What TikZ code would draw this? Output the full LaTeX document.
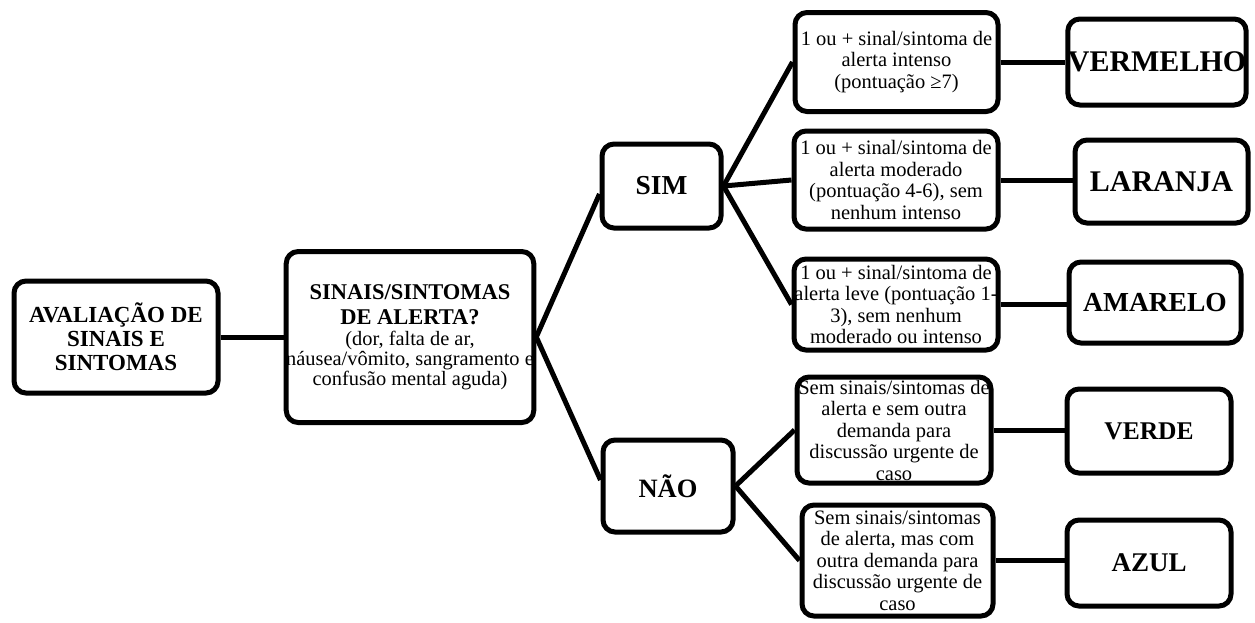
\documentclass[tikz,border=0pt]{standalone}
\usepackage{fontspec}
\setmainfont{Liberation Serif}
\usetikzlibrary{calc}
\newcommand{\bigb}{\fontsize{22.5}{25}\selectfont\bfseries}
\newcommand{\smb}{\fontsize{20.4}{20}\selectfont\mdseries}
\begin{document}
\begin{tikzpicture}[x=1pt,y=-1pt,
  box/.style={draw=black, line width=5pt, rounded corners=12pt, fill=white, align=center, inner sep=0pt,
    font=\fontsize{20.5}{21.5}\selectfont},
  bigbox/.style={box, font=\fontsize{30}{32}\selectfont\bfseries},
  conn/.style={line width=5pt, draw=black},
]
\useasboundingbox (0,0) rectangle (1255,622);

\node[box, minimum width=204, minimum height=112, font=\fontsize{23}{24}\selectfont\bfseries] (A) at (116,337)
  {AVALIAÇÃO DE\\SINAIS E\\SINTOMAS};
\node[box, minimum width=240, minimum height=171, font=\fontsize{20.4}{20}\selectfont] (B) at (410,337)
  {\bigb SINAIS/SINTOMAS\\[5pt]\bigb DE ALERTA?\\[1pt]\smb (dor, falta de ar,\\\smb náusea/vômito, sangramento e\\\smb confusão mental aguda)};

\node[box, minimum width=119, minimum height=84, font=\fontsize{27.4}{29}\selectfont\bfseries] (SIM) at (661.5,186) {SIM};
\node[box, minimum width=130, minimum height=92, font=\fontsize{26.5}{28}\selectfont\bfseries] (NAO) at (668,486) {NÃO};

\node[box, minimum width=203, minimum height=99] (C1) at (896.5,62) {1 ou + sinal/sintoma de\\alerta intenso\\(pontuação ≥7)};
\node[box, minimum width=204, minimum height=98] (C2) at (896,180) {1 ou + sinal/sintoma de\\alerta moderado\\(pontuação 4-6), sem\\nenhum intenso};
\node[box, minimum width=204, minimum height=91] (C3) at (896,304.5) {1 ou + sinal/sintoma de\\alerta leve (pontuação 1-\\3), sem nenhum\\moderado ou intenso};
\node[box, minimum width=194, minimum height=106] (C4) at (894,430) {Sem sinais/sintomas de\\alerta e sem outra\\demanda para\\discussão urgente de\\caso};
\node[box, minimum width=191, minimum height=111] (C5) at (897.5,560.5) {Sem sinais/sintomas\\de alerta, mas com\\outra demanda para\\discussão urgente de\\caso};

\node[bigbox, minimum width=176, minimum height=86] (VERM) at (1157,62) {VERMELHO};
\node[bigbox, minimum width=173, minimum height=83] (LAR) at (1161.5,181.5) {LARANJA};
\node[bigbox, minimum width=172, minimum height=81, font=\fontsize{27.5}{29}\selectfont\bfseries] (AMA) at (1155,302.5) {AMARELO};
\node[bigbox, minimum width=164, minimum height=84, font=\fontsize{25.5}{27}\selectfont\bfseries] (VER) at (1149,431) {VERDE};
\node[bigbox, minimum width=164, minimum height=86, font=\fontsize{27}{29}\selectfont\bfseries] (AZU) at (1149,563) {AZUL};

\draw[conn] (A.east) -- (A.east -| B.west);
\draw[conn] (B.east) -- ($(SIM.west)+(0,8)$);
\draw[conn] (B.east) -- ($(NAO.west)+(0,-6)$);
\draw[conn] (SIM.east) -- (C1.west);
\draw[conn] (SIM.east) -- (C2.west);
\draw[conn] (SIM.east) -- (C3.west);
\draw[conn] (NAO.east) -- (C4.west);
\draw[conn] (NAO.east) -- (C5.west);
\draw[conn] (C1.east) -- (C1.east -| VERM.west);
\draw[conn] (C2.east) -- (C2.east -| LAR.west);
\draw[conn] (C3.east) -- (C3.east -| AMA.west);
\draw[conn] (C4.east) -- (C4.east -| VER.west);
\draw[conn] (C5.east) -- (C5.east -| AZU.west);
\end{tikzpicture}
\end{document}
